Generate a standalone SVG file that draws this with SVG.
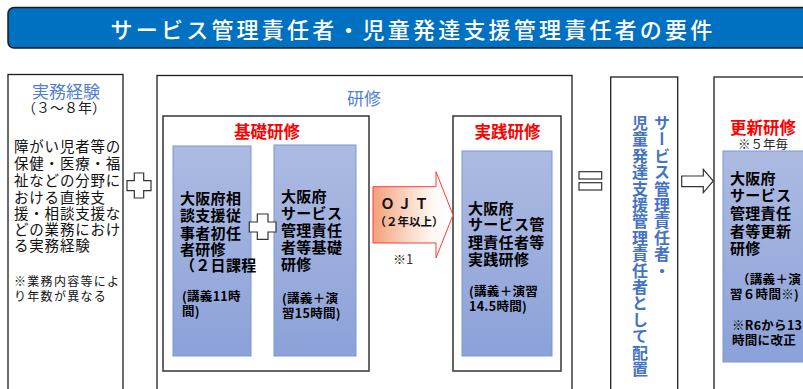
<svg xmlns="http://www.w3.org/2000/svg" width="803" height="389" viewBox="0 0 803 389">
<style>
text{font-family:"Noto Sans CJK JP","Noto Sans",sans-serif;dominant-baseline:central}
.frame{fill:#fff;stroke:#1e1e1e;stroke-width:1.3}
.sub{fill:#fff;stroke:#404040;stroke-width:1.6}
.blue{fill:url(#bg);stroke:#7d98d4;stroke-width:1}
.bt{font-size:15px;font-weight:bold;fill:#000;letter-spacing:0.3px}
.bs{font-size:12.5px;font-weight:bold;fill:#000;letter-spacing:0.3px}
.red{font-size:16.5px;font-weight:bold;fill:#ff0000;text-anchor:middle}
.lt{font-size:14.5px;fill:#111;letter-spacing:0.8px}
.ls{font-size:12px;fill:#111;letter-spacing:1.3px}
.hd{font-size:17px;fill:#4f7fcf;text-anchor:middle}
.vt{font-size:16px;font-weight:bold;fill:#4472c4;writing-mode:vertical-rl;letter-spacing:0.4px}
.sign{fill:#fff;stroke:#333;stroke-width:1.2}
</style>
<defs>
<linearGradient id="bg" x1="0" y1="0" x2="0" y2="1">
<stop offset="0" stop-color="#adbbe2"/>
<stop offset="1" stop-color="#8ba1d8"/>
</linearGradient>
<linearGradient id="og" x1="0" y1="0" x2="1" y2="0">
<stop offset="0" stop-color="#f2a079"/>
<stop offset="0.45" stop-color="#fbd9c6"/>
<stop offset="0.75" stop-color="#fff8f3"/>
<stop offset="1" stop-color="#ffffff"/>
</linearGradient>
</defs>

<g id="title">
<rect x="8" y="7.5" width="820" height="40.5" rx="6" fill="#0070c0" stroke="#1a1a1a" stroke-width="1.5"/>
<text x="413" y="27.5" font-size="22" font-weight="500" fill="#fff" text-anchor="middle" letter-spacing="3.2">サービス管理責任者・児童発達支援管理責任者の要件</text>
</g>

<g id="experience">
<rect class="frame" x="8" y="74.5" width="115" height="330"/>
<text class="hd" x="66" y="90">実務経験</text>
<text x="64" y="107" font-size="14" fill="#222" text-anchor="middle">（３～８年）</text>
<text class="lt" x="14" y="145">障がい児者等の</text>
<text class="lt" x="14" y="162">保健・医療・福</text>
<text class="lt" x="14" y="179">祉などの分野に</text>
<text class="lt" x="14" y="196">おける直接支</text>
<text class="lt" x="14" y="212">援・相談支援な</text>
<text class="lt" x="14" y="228">どの業務におけ</text>
<text class="lt" x="14" y="244">る実務経験</text>
<text class="ls" x="14" y="280">※業務内容等によ</text>
<text class="ls" x="14" y="295">り年数が異なる</text>
</g>

<g id="training">
<rect class="frame" x="157" y="75.5" width="415" height="330"/>
<text class="hd" x="364" y="97">研修</text>
</g>

<g id="basic">
<rect class="sub" x="163" y="116" width="206" height="255"/>
<text class="red" x="267" y="131">基礎研修</text>
</g>

<g id="basic-soudan">
<rect class="blue" x="173" y="146" width="78" height="210"/>
<text class="bt" x="180" y="197">大阪府相</text>
<text class="bt" x="180" y="214">談支援従</text>
<text class="bt" x="180" y="232">事者初任</text>
<text class="bt" x="180" y="248">者研修</text>
<text class="bt" x="180" y="264" font-size="13" letter-spacing="0">（２日課程</text>
<text class="bs" x="182" y="295">(講義11時</text>
<text class="bs" x="182" y="310">間)</text>
</g>

<g id="basic-service">
<rect class="blue" x="274" y="145" width="82" height="211"/>
<text class="bt" x="281" y="195">大阪府</text>
<text class="bt" x="281" y="212">サービス</text>
<text class="bt" x="281" y="229">管理責任</text>
<text class="bt" x="281" y="246">者等基礎</text>
<text class="bt" x="281" y="263">研修</text>
<text class="bs" x="282" y="297">(講義＋演</text>
<text class="bs" x="282" y="312">習15時間)</text>
</g>

<g id="practice">
<rect class="sub" x="453" y="116" width="108" height="255"/>
<text class="red" x="507.5" y="131">実践研修</text>
<rect class="blue" x="462" y="151" width="90" height="205"/>
<text class="bt" x="468" y="207">大阪府</text>
<text class="bt" x="468" y="223">サービス管</text>
<text class="bt" x="468" y="241">理責任者等</text>
<text class="bt" x="468" y="258">実践研修</text>
<text class="bs" x="469" y="290">(講義＋演習</text>
<text class="bs" x="469" y="305">14.5時間)</text>
</g>

<g id="placement">
<rect class="frame" x="610.7" y="77" width="67" height="330"/>
<text class="vt" x="662" y="115">サービス管理責任者・</text>
<text class="vt" x="640" y="115">児童発達支援管理責任者として配置</text>
</g>

<g id="renewal">
<rect class="frame" x="714" y="77" width="120" height="330"/>
<text class="red" x="763" y="126.5" font-size="16">更新研修</text>
<text x="763" y="143" font-size="12.5" fill="#222" text-anchor="middle">※５年毎</text>
<rect class="blue" x="723" y="151" width="110" height="211"/>
<text class="bt" x="730" y="177">大阪府</text>
<text class="bt" x="730" y="194">サービス</text>
<text class="bt" x="730" y="212">管理責任</text>
<text class="bt" x="730" y="230">者等更新</text>
<text class="bt" x="730" y="247">研修</text>
<text class="bs" x="737" y="278">（講義＋演</text>
<text class="bs" x="730" y="293">習６時間※)</text>
<text class="bs" x="732" y="324.5" font-size="12">※R6から13</text>
<text class="bs" x="732" y="339.5" font-size="12">時間に改正</text>
</g>

<g id="connectors">
<path class="sign" d="M134.3,173 H143.7 V180.7 H151 V190.7 H143.7 V198 H134.3 V190.7 H127 V180.7 H134.3 Z"/>
<path class="sign" d="M257.3,214 H268 V222 H276 V232 H268 V239.3 H257.3 V232 H249.3 V222 H257.3 Z"/>
<g id="ojt">
<path d="M373,186.7 H436 V171.7 L453,215 L436,258 V243 H373 Z" fill="url(#og)" stroke="#ff3b3b" stroke-width="1"/>
<text x="406" y="203" font-size="14" font-weight="bold" fill="#111" text-anchor="middle" letter-spacing="3">ＯＪＴ</text>
<text x="409" y="221" font-size="11.5" font-weight="bold" fill="#111" text-anchor="middle">（２年以上）</text>
<text x="403" y="258" font-size="13" fill="#333" text-anchor="middle">※1</text>
</g>
<rect class="sign" x="579" y="171.7" width="22.7" height="7.3"/>
<rect class="sign" x="579" y="182.7" width="22.7" height="7.3"/>
<path class="sign" d="M681.7,176 H703.3 V169.3 L713.3,181 L703.3,192.7 V186.7 H681.7 Z"/>
</g>
</svg>
